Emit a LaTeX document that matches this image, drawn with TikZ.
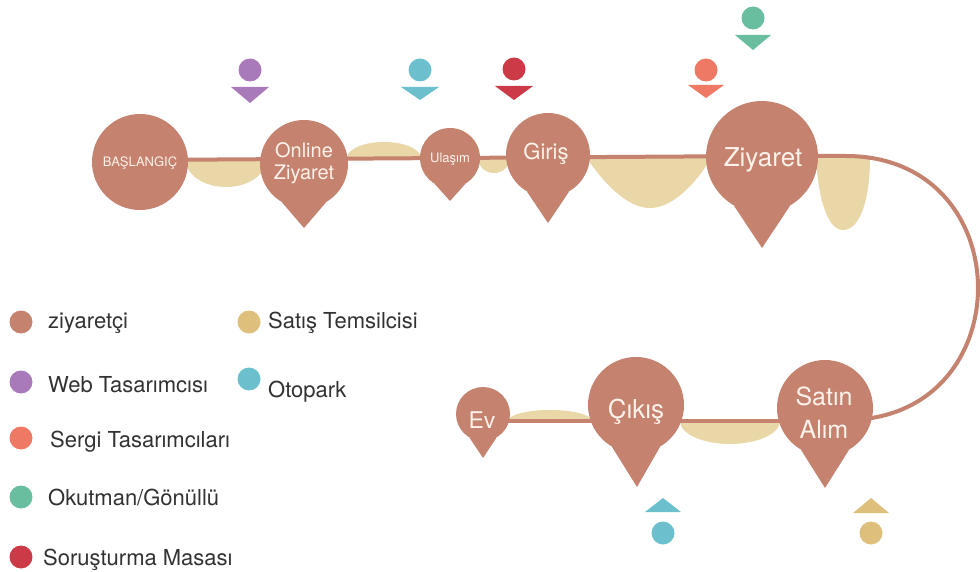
\documentclass[tikz,border=0pt]{standalone}
\usepackage{fontspec}
\setmainfont{TeX Gyre Heros}
\pgfdeclarelayer{lumps}
\pgfdeclarelayer{track}
\pgfsetlayers{lumps,track,main}
\definecolor{vis}{RGB}{196,130,111}
\definecolor{sales}{RGB}{233,215,168}
\definecolor{salesdot}{RGB}{222,192,124}
\definecolor{web}{RGB}{168,122,186}
\definecolor{park}{RGB}{108,192,206}
\definecolor{expo}{RGB}{238,122,102}
\definecolor{guide}{RGB}{104,190,158}
\definecolor{desk}{RGB}{204,58,72}
\definecolor{cream}{RGB}{253,242,234}
\definecolor{ink}{RGB}{50,50,50}
\newcommand\lumpdown[4]{\begin{scope}\clip (#1-#3-1,#2) rectangle (#1+#3+1,#2+#4+1);
  \fill[sales] (#1,#2) ellipse[x radius=#3,y radius=#4];\end{scope}}
\newcommand\lumpup[4]{\begin{scope}\clip (#1-#3-1,#2) rectangle (#1+#3+1,#2-#4-1);
  \fill[sales] (#1,#2) ellipse[x radius=#3,y radius=#4];\end{scope}}
\begin{document}
\begin{tikzpicture}[x=1pt,y=-1pt,
  stopc/.style={circle,fill=vis,inner sep=0pt},
  stoptext/.style={text=cream,align=center,inner sep=0pt},
  dot/.style={circle,fill=#1,inner sep=0pt,minimum size=23pt},
  legtext/.style={anchor=base west,text=ink,font=\fontsize{22}{24}\selectfont,inner sep=0pt},
  track/.style={draw=vis,line width=4pt}]
\useasboundingbox (0,0) rectangle (980,572);

% stops
\node[stopc,minimum size=96pt] (bas) at (140,162) {};
\node[stopc,minimum size=88pt] (online) at (304,164) {};
\node[stopc,minimum size=60pt] (ulasim) at (450,158) {};
\node[stopc,minimum size=84pt] (giris) at (548,155) {};
\node[stopc,minimum size=112pt] (ziyaret) at (762,157) {};
\node[stopc,minimum size=96pt] (satin) at (825,408) {};
\node[stopc,minimum size=96pt] (cikis) at (636,405) {};
\node[stopc,minimum size=54pt] (ev) at (483,414) {};

% tips
\fill[vis] (online.-120) -- (online.-60) -- (304,228) -- cycle;
\fill[vis] (ulasim.-120) -- (ulasim.-60) -- (450,201) -- cycle;
\fill[vis] (giris.-120) -- (giris.-60) -- (548,223) -- cycle;
\fill[vis] (ziyaret.-120) -- (ziyaret.-60) -- (762,248) -- cycle;
\fill[vis] (satin.-120) -- (satin.-60) -- (825,488) -- cycle;
\fill[vis] (cikis.-120) -- (cikis.-60) -- (637,487) -- cycle;
\fill[vis] (ev.-120) -- (ev.-60) -- (483,458) -- cycle;

% texts
\node[stoptext,font=\fontsize{13}{14}\selectfont] (bas-t) at (140,163) {BAŞLANGIÇ};
\node[stoptext,font=\fontsize{20}{22}\selectfont] (online-t) at (304,163) {Online\\Ziyaret};
\node[stoptext,font=\fontsize{13}{14}\selectfont] (ulasim-t) at (450,159) {Ulaşım};
\node[stoptext,font=\fontsize{22}{24}\selectfont] (giris-t) at (546,154) {Giriş};
\node[stoptext,font=\fontsize{26}{28}\selectfont] (ziyaret-t) at (763,160) {Ziyaret};
\node[stoptext,font=\fontsize{25}{33}\selectfont] (satin-t) at (824,413) {Satın\\Alım};
\node[stoptext,font=\fontsize{26}{28}\selectfont] (cikis-t) at (636,412) {Çıkış};
\node[stoptext,font=\fontsize{23}{24}\selectfont] (ev-t) at (482,420) {Ev};

% track
\coordinate (arcS) at (846,156);
\coordinate (arcE) at (846,420);
\begin{pgfonlayer}{track}
\draw[track] (bas |- 0,160) -- (ziyaret |- 0,156) -- (arcS)
  .. controls +(176,0) and +(176,0) .. (arcE) -- (satin |- 0,420);
\draw[track] (ev |- 0,421) -- (satin |- 0,421);
\end{pgfonlayer}

% sales lumps
\begin{pgfonlayer}{lumps}
\lumpdown{226}{160}{40}{27}
\lumpup{384}{158}{37}{16}
\lumpdown{494}{158}{16}{15}
\fill[sales] (586,157) .. controls (605,185) and (628,208) .. (650,208)
  .. controls (672,208) and (695,185) .. (712,157) -- cycle;
\fill[sales] (816,157) .. controls (818,200) and (828,230) .. (843,230)
  .. controls (860,230) and (870,200) .. (870,157) -- cycle;
\lumpup{550}{421}{42}{11}
\lumpdown{730}{421}{50}{23}
\end{pgfonlayer}

% role markers
\node[dot=web] (m-web) at (250,70) {};
\fill[web] (231,87) -- (269,87) -- (250,103) -- cycle;
\node[dot=park] (m-park1) at (420,70) {};
\fill[park] (401,87) -- (439,87) -- (420,100) -- cycle;
\node[dot=desk] (m-desk) at (514,69) {};
\fill[desk] (495,86) -- (533,86) -- (514,100) -- cycle;
\node[dot=expo] (m-expo) at (706,70) {};
\fill[expo] (688,85) -- (724,85) -- (706,98) -- cycle;
\node[dot=guide] (m-guide) at (753,18) {};
\fill[guide] (735,35) -- (771,35) -- (753,50) -- cycle;
\fill[park] (645,512) -- (681,512) -- (663,498) -- cycle;
\node[dot=park] (m-park2) at (663,533) {};
\fill[salesdot] (853,513) -- (889,513) -- (871,498) -- cycle;
\node[dot=salesdot] (m-sales) at (871,533) {};

% legend
\node[dot=vis] (l1) at (21,322) {};
\node[legtext] (l1-t) at (48,328) {ziyaretçi};
\node[dot=web] (l2) at (21,382) {};
\node[legtext] (l2-t) at (48,392) {Web Tasarımcısı};
\node[dot=expo] (l3) at (21,438) {};
\node[legtext] (l3-t) at (50,447) {Sergi Tasarımcıları};
\node[dot=guide] (l4) at (21,497) {};
\node[legtext] (l4-t) at (48,505) {Okutman/Gönüllü};
\node[dot=desk] (l5) at (21,557) {};
\node[legtext] (l5-t) at (43,565) {Soruşturma Masası};
\node[dot=salesdot] (l6) at (249,322) {};
\node[legtext] (l6-t) at (268,328) {Satış Temsilcisi};
\node[dot=park] (l7) at (249,379) {};
\node[legtext] (l7-t) at (268,397) {Otopark};
\end{tikzpicture}
\end{document}
